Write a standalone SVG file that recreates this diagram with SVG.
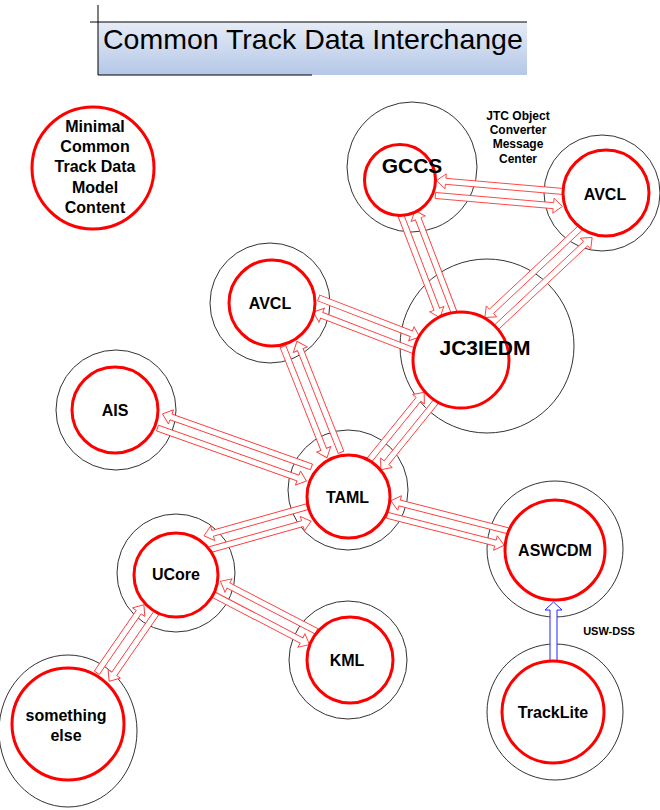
<svg xmlns="http://www.w3.org/2000/svg" width="660" height="810" viewBox="0 0 660 810">
<defs>
<linearGradient id="tg" x1="0" y1="0" x2="0" y2="1">
<stop offset="0" stop-color="#e6ecf6"/>
<stop offset="1" stop-color="#b4c7e7"/>
</linearGradient>
<style>
.outer{fill:none;stroke:#333;stroke-width:1}
.inner{fill:#fff;stroke:#f00;stroke-width:3}
.arr{fill:#fff;stroke:#ff3b3b;stroke-width:0.9}
.blue{fill:#fff;stroke:#22f;stroke-width:1}
.lbl{font-family:"Liberation Sans",Arial,sans-serif;font-weight:bold;font-size:16px;text-anchor:middle;fill:#000}
.sm{font-family:"Liberation Sans",Arial,sans-serif;font-weight:bold;font-size:12px;text-anchor:middle;fill:#000}
</style>
</defs>
<rect width="660" height="810" fill="#fff"/>
<g id="title">
<rect x="98" y="22" width="429" height="53" fill="url(#tg)"/>
<line x1="90" y1="22" x2="527" y2="22" stroke="#000" stroke-width="1"/>
<line x1="98" y1="5" x2="98" y2="75" stroke="#000" stroke-width="1"/>
<line x1="98" y1="75" x2="312" y2="75" stroke="#000" stroke-width="1"/>
<text x="103" y="49" font-family="Liberation Sans, Arial, sans-serif" font-size="28.5" fill="#000">Common Track Data Interchange</text>
</g>
<g id="outers">
<circle class="outer" cx="412" cy="167" r="65"/>
<circle class="outer" cx="602" cy="193" r="58"/>
<circle class="outer" cx="270" cy="303" r="60"/>
<circle class="outer" cx="487" cy="346" r="87"/>
<circle class="outer" cx="116" cy="410" r="60"/>
<circle class="outer" cx="348" cy="490" r="60"/>
<circle class="outer" cx="555" cy="549" r="68"/>
<circle class="outer" cx="176" cy="573" r="59"/>
<circle class="outer" cx="348" cy="660" r="59"/>
<ellipse class="outer" cx="68" cy="731" rx="69" ry="76"/>
<circle class="outer" cx="555" cy="712" r="68"/>
</g>
<g id="connectors">
<g transform="translate(436,188) rotate(4.95)"><path class="arr" d="M0,4.5 H118.5 V0 L127.5,7.5 L118.5,15 V10.5 H0 Z"/><path class="arr" d="M127.5,-10.5 H9 V-15 L0,-7.5 L9,0 V-4.5 H127.5 Z"/></g>
<g transform="translate(408,213) rotate(69.07)"><path class="arr" d="M0,4.5 H100.2 V0 L109.2,7.5 L100.2,15 V10.5 H0 Z"/><path class="arr" d="M109.2,-10.5 H9 V-15 L0,-7.5 L9,0 V-4.5 H109.2 Z"/></g>
<g transform="translate(587,232) rotate(136.83)"><path class="arr" d="M0,4.5 H124 V0 L133,7.5 L124,15 V10.5 H0 Z"/><path class="arr" d="M133,-10.5 H9 V-15 L0,-7.5 L9,0 V-4.5 H133 Z"/></g>
<g transform="translate(316,305) rotate(21.1)"><path class="arr" d="M0,-10.5 H99.3 V-15 L108.3,-7.5 L99.3,0 V-4.5 H0 Z"/><path class="arr" d="M108.3,4.5 H9 V0 L0,7.5 L9,15 V10.5 H108.3 Z"/></g>
<g transform="translate(290,344) rotate(68.38)"><path class="arr" d="M0,4.5 H110.4 V0 L119.4,7.5 L110.4,15 V10.5 H0 Z"/><path class="arr" d="M119.4,-10.5 H9 V-15 L0,-7.5 L9,0 V-4.5 H119.4 Z"/></g>
<g transform="translate(160,421) rotate(19.58)"><path class="arr" d="M0,4.5 H149.1 V0 L158.1,7.5 L149.1,15 V10.5 H0 Z"/><path class="arr" d="M158.1,-10.5 H9 V-15 L0,-7.5 L9,0 V-4.5 H158.1 Z"/></g>
<g transform="translate(430,397) rotate(128.97)"><path class="arr" d="M0,-10.5 H78.5 V-15 L87.5,-7.5 L78.5,0 V-4.5 H0 Z"/><path class="arr" d="M87.5,4.5 H9 V0 L0,7.5 L9,15 V10.5 H87.5 Z"/></g>
<g transform="translate(389,508) rotate(14.38)"><path class="arr" d="M0,4.5 H111.8 V0 L120.8,7.5 L111.8,15 V10.5 H0 Z"/><path class="arr" d="M120.8,-10.5 H9 V-15 L0,-7.5 L9,0 V-4.5 H120.8 Z"/></g>
<g transform="translate(206,543) rotate(-15.72)"><path class="arr" d="M0,4.5 H98 V0 L107,7.5 L98,15 V10.5 H0 Z"/><path class="arr" d="M107,-10.5 H9 V-15 L0,-7.5 L9,0 V-4.5 H107 Z"/></g>
<g transform="translate(217,588) rotate(27.5)"><path class="arr" d="M0,4.5 H99.2 V0 L108.2,7.5 L99.2,15 V10.5 H0 Z"/><path class="arr" d="M108.2,-10.5 H9 V-15 L0,-7.5 L9,0 V-4.5 H108.2 Z"/></g>
<g transform="translate(150,609) rotate(124.65)"><path class="arr" d="M0,-10.5 H73.7 V-15 L82.7,-7.5 L73.7,0 V-4.5 H0 Z"/><path class="arr" d="M82.7,4.5 H9 V0 L0,7.5 L9,15 V10.5 H82.7 Z"/></g>
<path class="blue" d="M550,661 V610 H545 L553.5,602 L562,610 H557 V661 Z"/>
</g>
<g id="minimal">
<circle class="inner" cx="93" cy="168" r="61"/>
<text class="lbl" x="95" y="132">Minimal</text>
<text class="lbl" x="95" y="152">Common</text>
<text class="lbl" x="95" y="172">Track Data</text>
<text class="lbl" x="95" y="193">Model</text>
<text class="lbl" x="95" y="213">Content</text>
</g>
<g id="gccs">
<circle class="inner" cx="400" cy="180" r="35.5"/>
<text class="lbl" x="412" y="173" style="font-size:21px">GCCS</text>
</g>
<g id="jtc-label">
<text class="sm" x="518" y="120">JTC Object</text>
<text class="sm" x="518" y="134">Converter</text>
<text class="sm" x="518" y="148">Message</text>
<text class="sm" x="518" y="163">Center</text>
</g>
<g id="avcl-right">
<circle class="inner" cx="606" cy="193" r="43"/>
<text class="lbl" x="605" y="200">AVCL</text>
</g>
<g id="avcl-left">
<circle class="inner" cx="272" cy="303" r="43"/>
<text class="lbl" x="270" y="309">AVCL</text>
</g>
<g id="jc3iedm">
<circle class="inner" cx="461" cy="360" r="48"/>
<text class="lbl" x="485" y="355" style="font-size:21px">JC3IEDM</text>
</g>
<g id="ais">
<circle class="inner" cx="115" cy="410" r="43"/>
<text class="lbl" x="115" y="416">AIS</text>
</g>
<g id="taml">
<circle class="inner" cx="348.5" cy="496.5" r="41.5"/>
<text class="lbl" x="347.5" y="503">TAML</text>
</g>
<g id="aswcdm">
<circle class="inner" cx="555" cy="550" r="50"/>
<text class="lbl" x="555" y="556">ASWCDM</text>
</g>
<g id="ucore">
<circle class="inner" cx="176" cy="575" r="42"/>
<text class="lbl" x="176" y="580">UCore</text>
</g>
<g id="kml">
<circle class="inner" cx="350" cy="660" r="43"/>
<text class="lbl" x="347" y="666">KML</text>
</g>
<g id="something-else">
<circle class="inner" cx="68" cy="724" r="56"/>
<text class="lbl" x="66" y="721">something</text>
<text class="lbl" x="66" y="741">else</text>
</g>
<g id="tracklite">
<circle class="inner" cx="553" cy="712" r="51"/>
<text class="lbl" x="553" y="718">TrackLite</text>
</g>
<g id="usw-dss">
<text class="sm" x="609" y="635" style="font-size:11px">USW-DSS</text>
</g>
</svg>
